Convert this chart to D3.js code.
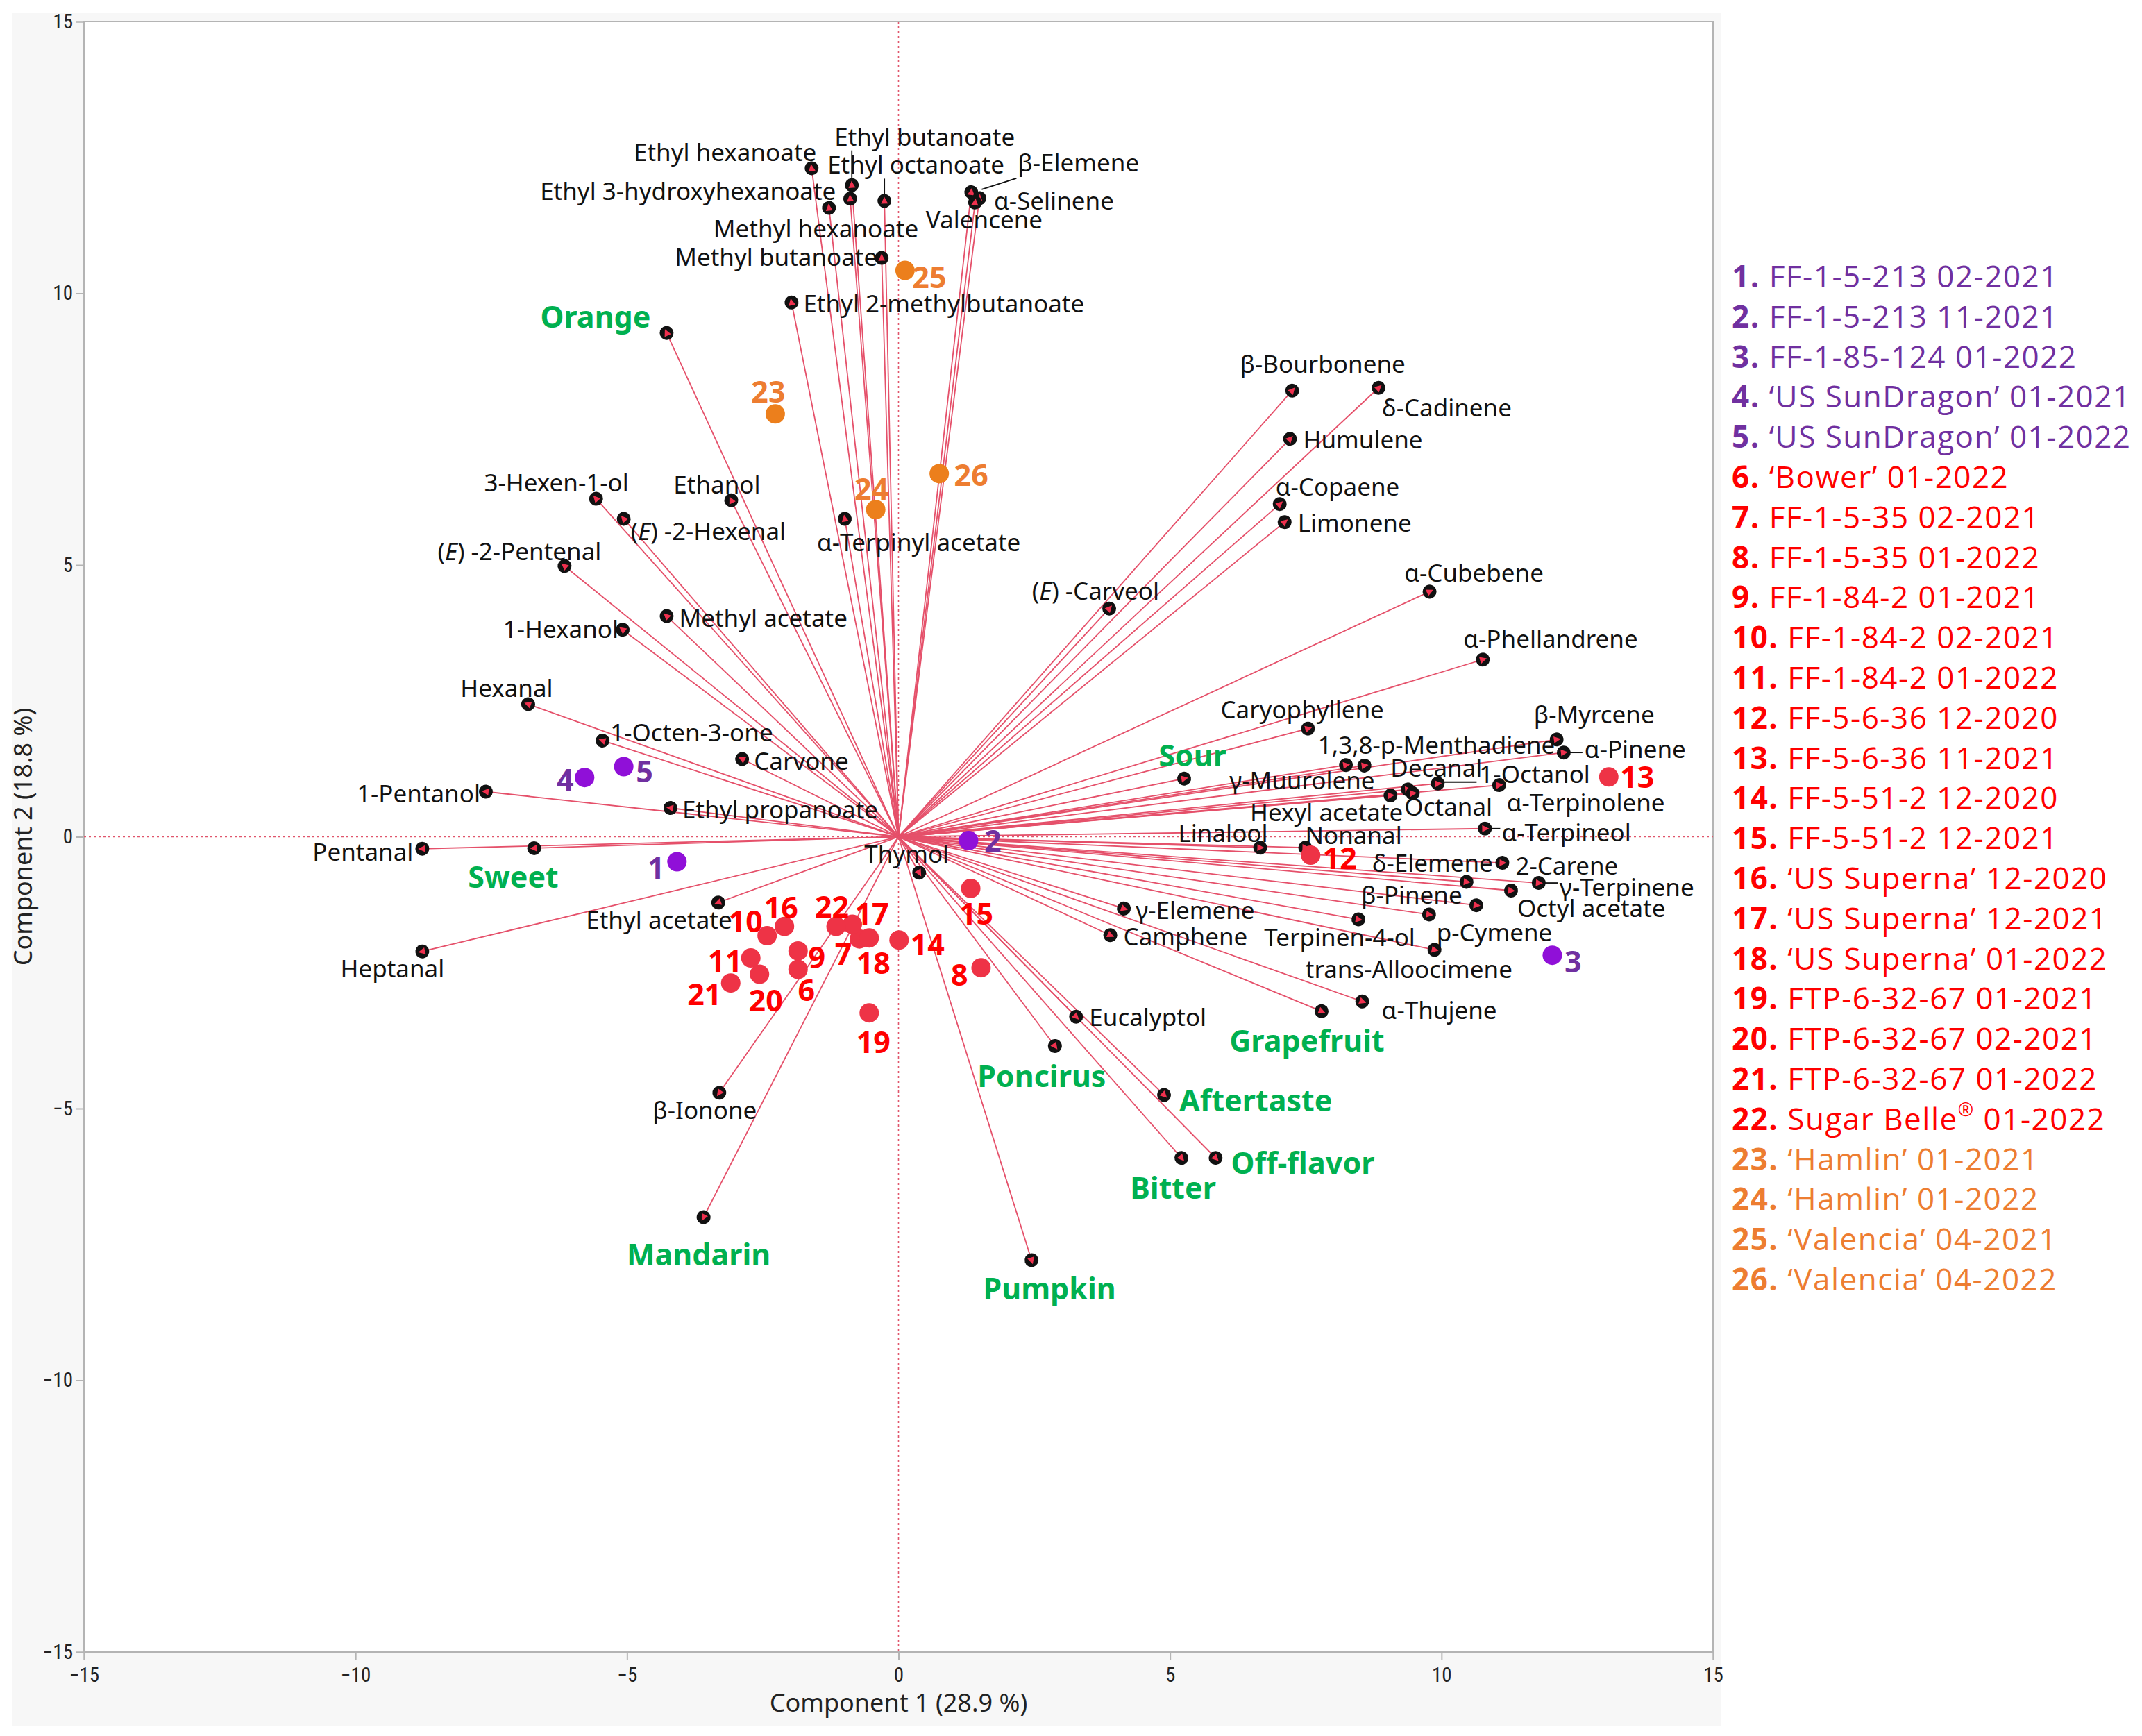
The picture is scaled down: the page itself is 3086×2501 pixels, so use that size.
<!DOCTYPE html>
<html>
<head>
<meta charset="utf-8">
<script src="https://cdn.jsdelivr.net/npm/d3@7"></script>
<style>
  body { margin: 0; background: #fff; }
  text { font-family: "Noto Sans", "DejaVu Sans", sans-serif; }
</style>
</head>
<body>
<div id="chart"></div>
<script>
// ---- data ----
var loadNames = ["Ethyl hexanoate","Ethyl butanoate","Ethyl 3-hydroxyhexanoate","Methyl hexanoate","Ethyl octanoate",
  "Methyl butanoate","Ethyl 2-methylbutanoate","β-Elemene","α-Selinene","Valencene","Orange","3-Hexen-1-ol",
  "(E)-2-Hexenal","Ethanol","α-Terpinyl acetate","(E)-2-Pentenal","Methyl acetate","1-Hexanol","(E)-Carveol",
  "β-Bourbonene","δ-Cadinene","Humulene","α-Copaene","Limonene","α-Cubebene","α-Phellandrene","Caryophyllene",
  "1,3,8-p-Menthadiene","β-Myrcene","α-Pinene","γ-Muurolene","Decanal","1-Octanol","Hexyl acetate","Octanal",
  "α-Terpinolene","α-Terpineol","Linalool","Nonanal","δ-Elemene","2-Carene","γ-Terpinene","Octyl acetate",
  "β-Pinene","trans-Alloocimene","p-Cymene","Terpinen-4-ol","α-Thujene","Grapefruit","γ-Elemene","Camphene",
  "Eucalyptol","Thymol","Sour","Sweet","Hexanal","1-Octen-3-one","Carvone","1-Pentanol","Ethyl propanoate",
  "Pentanal","Heptanal","Ethyl acetate","β-Ionone","Mandarin","Poncirus","Aftertaste","Bitter","Off-flavor","Pumpkin"];
var loadX = [-1.60,-0.86,-1.28,-0.89,-0.26,-0.31,-1.97,1.34,1.49,1.41,-4.27,-5.57,-5.06,-3.08,-0.99,-6.15,-4.27,-5.08,
  3.88,7.25,8.84,7.21,7.02,7.11,9.78,10.76,7.54,8.58,12.12,12.25,8.24,9.38,9.93,9.06,9.47,11.06,10.80,6.66,7.49,
  10.46,11.12,11.79,11.28,9.77,10.64,9.87,8.47,8.54,7.79,4.15,3.90,3.27,0.38,5.26,-6.71,-6.82,-5.45,-2.88,-7.60,
  -4.20,-8.77,-8.77,-3.32,-3.30,-3.59,2.88,4.89,5.21,5.84,2.45];
var loadY = [12.30,11.99,11.57,11.74,11.70,10.65,9.83,11.86,11.75,11.67,9.27,6.22,5.85,6.19,5.85,4.98,4.06,3.81,
  4.20,8.21,8.26,7.32,6.12,5.79,4.51,3.26,1.99,1.31,1.79,1.55,1.32,0.87,0.98,0.76,0.80,0.95,0.15,-0.20,-0.20,
  -0.83,-0.48,-0.85,-0.99,-1.43,-1.26,-2.08,-1.52,-3.03,-3.21,-1.32,-1.81,-3.31,-0.66,1.07,-0.21,2.44,1.77,1.43,
  0.83,0.53,-0.22,-2.11,-1.21,-4.71,-7.00,-3.85,-4.75,-5.91,-5.91,-7.79];
var sensory = ["Orange","Sour","Sweet","Grapefruit","Mandarin","Poncirus","Aftertaste","Bitter","Off-flavor","Pumpkin"];

var scoreIds = ["1","2","3","4","5","6","7","8","9","10","11","12","13","14","15","16","17","18","19","20","21","22","23","24","25","26"];
var scoreX = [-4.08,1.29,12.04,-5.78,-5.06,-1.85,-0.72,1.52,-1.85,-2.42,-2.72,7.59,13.08,0.01,1.33,-2.10,-0.85,-0.54,
  -0.54,-2.56,-3.09,-1.15,-2.27,-0.42,0.12,0.75];
var scoreY = [-0.46,-0.07,-2.18,1.09,1.29,-2.44,-1.88,-2.41,-2.10,-1.82,-2.23,-0.34,1.10,-1.90,-0.95,-1.65,-1.61,-1.86,
  -3.24,-2.53,-2.69,-1.65,7.78,6.02,10.42,6.68];
var scoreGroup = [0,0,0,0,0,1,1,1,1,1,1,1,1,1,1,1,1,1,1,1,1,1,2,2,2,2];
var legendNames = ["FF-1-5-213 02-2021","FF-1-5-213 11-2021","FF-1-85-124 01-2022","\u2018US SunDragon\u2019 01-2021",
  "\u2018US SunDragon\u2019 01-2022","\u2018Bower\u2019 01-2022","FF-1-5-35 02-2021","FF-1-5-35 01-2022","FF-1-84-2 01-2021",
  "FF-1-84-2 02-2021","FF-1-84-2 01-2022","FF-5-6-36 12-2020","FF-5-6-36 11-2021","FF-5-51-2 12-2020",
  "FF-5-51-2 12-2021","\u2018US Superna\u2019 12-2020","\u2018US Superna\u2019 12-2021","\u2018US Superna\u2019 01-2022",
  "FTP-6-32-67 01-2021","FTP-6-32-67 02-2021","FTP-6-32-67 01-2022","Sugar Belle\u00ae 01-2022",
  "\u2018Hamlin\u2019 01-2021","\u2018Hamlin\u2019 01-2022","\u2018Valencia\u2019 04-2021","\u2018Valencia\u2019 04-2022"];
var xTicks = [-15,-10,-5,0,5,10,15];
var yTicks = [-15,-10,-5,0,5,10,15];

// ---- label placement (anchor, dx, dy in px from the marker; optional leader) ----
var labelPlace = {
  "Ethyl hexanoate":["end",7,-24], "Ethyl butanoate":["start",-25,-70,[0,-10,0,-50]],
  "Ethyl 3-hydroxyhexanoate":["end",10,-25], "Methyl hexanoate":["start",-197,42],
  "Ethyl octanoate":["start",-82,-53,[0,-10,0,-32]], "Methyl butanoate":["end",-6,-2],
  "Ethyl 2-methylbutanoate":["start",17,1], "β-Elemene":["start",67,-43,[15,-4,65,-20]],
  "α-Selinene":["start",21,3], "Valencene":["start",-71,24], "Orange":["end",-23,-24],
  "3-Hexen-1-ol":["end",47,-24], "Ethanol":["end",42,-23], "(E)-2-Hexenal":["start",10,17],
  "α-Terpinyl acetate":["start",-40,33], "(E)-2-Pentenal":["end",53,-23], "Methyl acetate":["start",18,2],
  "1-Hexanol":["end",-6,-2], "(E)-Carveol":["end",72,-27], "β-Bourbonene":["middle",44,-39],
  "δ-Cadinene":["start",5,28], "Humulene":["start",19,0], "α-Copaene":["start",-6,-26],
  "Limonene":["start",19,0], "α-Cubebene":["middle",64,-28], "α-Phellandrene":["start",-28,-31],
  "Caryophyllene":["start",-126,-28], "1,3,8-p-Menthadiene":["start",-67,-30], "β-Myrcene":["start",-33,-37],
  "α-Pinene":["start",30,-6,[8,0,27,0]], "γ-Muurolene":["start",-168,21], "Decanal":["start",-25,-32],
  "1-Octanol":["start",60,-14,[8,-2,56,-2]], "Hexyl acetate":["end",18,24], "Octanal":["start",-12,19],
  "α-Terpinolene":["start",11,24], "α-Terpineol":["start",24,5,[9,0,22,0]], "Linalool":["end",11,-22],
  "Nonanal":["start",0,-19], "δ-Elemene":["end",38,-28], "2-Carene":["start",19,3],
  "γ-Terpinene":["start",30,5,[8,0,28,0]], "Octyl acetate":["start",9,24], "β-Pinene":["middle",-25,-29],
  "trans-Alloocimene":["middle",-97,91], "p-Cymene":["start",3,-26], "Terpinen-4-ol":["middle",-27,25],
  "α-Thujene":["start",28,12], "Grapefruit":["middle",-21,42], "γ-Elemene":["start",17,2],
  "Camphene":["start",19,1], "Eucalyptol":["start",19,0], "Thymol":["middle",-18,-28],
  "Sour":["middle",12,-34], "Sweet":["middle",-30,41], "Hexanal":["middle",-31,-24],
  "1-Octen-3-one":["start",11,-12], "Carvone":["start",17,2], "1-Pentanol":["end",-8,2],
  "Ethyl propanoate":["start",17,1], "Pentanal":["end",-13,4], "Heptanal":["middle",-43,24],
  "Ethyl acetate":["end",20,24], "β-Ionone":["middle",-21,24], "Mandarin":["middle",-7,53],
  "Poncirus":["middle",-19,43], "Aftertaste":["start",22,7], "Bitter":["middle",-12,42],
  "Off-flavor":["start",22,6], "Pumpkin":["middle",26,40]
};
var scoreLabelPos = {
  "1":[-30,8], "2":[35,0], "3":[30,8], "4":[-28,2], "5":[30,6], "6":[12,29], "7":[-23,21], "8":[-31,9],
  "9":[27,9], "10":[-31,-22], "11":[-37,3], "12":[42,3], "13":[41,-1], "14":[41,5], "15":[8,36],
  "16":[-5,-28], "17":[28,-16], "18":[6,35], "19":[6,41], "20":[9,37], "21":[-38,15], "22":[-6,-29],
  "23":[-10,-33], "24":[-6,-31], "25":[35,9], "26":[46,1]
};

var dotColor = ["#9010d8", "#ee3346", "#ec7f1c"];
var textColor = ["#7030a0", "#ff0000", "#ed7d31"];

var width = 3086, height = 2501;
var svg = d3.select("#chart").append("svg")
  .attr("width", width).attr("height", height);

var x = d3.scaleLinear().domain([-15, 15]).range([121, 2468]);
var y = d3.scaleLinear().domain([-15, 15]).range([2380, 31]);

// frame
svg.append("rect").attr("x", 18).attr("y", 19).attr("width", 2461).attr("height", 2468).attr("fill", "#f7f7f7");
svg.append("rect").attr("x", x(-15)).attr("y", y(15))
  .attr("width", x(15) - x(-15)).attr("height", y(-15) - y(15))
  .attr("fill", "#fff").attr("stroke", "#b4b4b4").attr("stroke-width", 2);

// axes
var xAxis = svg.append("g").attr("transform", "translate(0," + y(-15) + ")")
  .call(d3.axisBottom(x).tickValues(xTicks).tickSize(12).tickPadding(10).tickFormat(d3.format("d")));
var yAxis = svg.append("g").attr("transform", "translate(" + x(-15) + ",0)")
  .call(d3.axisLeft(y).tickValues(yTicks).tickSize(12).tickPadding(4).tickFormat(d3.format("d")));
[xAxis, yAxis].forEach(function (g) {
  g.select(".domain").attr("stroke", "#b4b4b4").attr("stroke-width", 2);
  g.selectAll(".tick line").attr("stroke", "#b4b4b4").attr("stroke-width", 2);
  g.selectAll(".tick text").attr("fill", "#222")
    .style("font-family", "'Liberation Sans Narrow', 'Roboto Condensed', sans-serif").style("font-size", "29px");
});
yAxis.selectAll(".tick text").attr("dy", "0.32em");

svg.append("text").attr("x", x(0)).attr("y", 2466).attr("text-anchor", "middle")
  .style("font-size", "36px").attr("fill", "#222").text("Component 1  (28.9 %)");
svg.append("text").attr("transform", "translate(46," + y(0) + ") rotate(-90)").attr("text-anchor", "middle")
  .style("font-size", "36px").attr("fill", "#222").text("Component 2  (18.8 %)");

// zero reference lines
svg.append("line").attr("x1", x(0)).attr("x2", x(0)).attr("y1", y(15)).attr("y2", y(-15))
  .attr("stroke", "#e0556b").attr("stroke-width", 1.6).attr("stroke-dasharray", "3,4");
svg.append("line").attr("x1", x(-15)).attr("x2", x(15)).attr("y1", y(0)).attr("y2", y(0))
  .attr("stroke", "#e0556b").attr("stroke-width", 1.6).attr("stroke-dasharray", "3,4");

var loads = loadNames.map(function (n, i) { return { name: n, x: loadX[i], y: loadY[i] }; });
var scores = scoreIds.map(function (id, i) { return { id: id, x: scoreX[i], y: scoreY[i], g: scoreGroup[i] }; });

// vectors
svg.append("g").selectAll("line").data(loads).enter().append("line")
  .attr("x1", x(0)).attr("y1", y(0))
  .attr("x2", function (d) { return x(d.x); }).attr("y2", function (d) { return y(d.y); })
  .attr("stroke", "#e5506a").attr("stroke-width", 1.8);

// leader lines
svg.append("g").selectAll("line").data(loads.filter(function (d) { return labelPlace[d.name][3]; }))
  .enter().append("line")
  .attr("x1", function (d) { return x(d.x) + labelPlace[d.name][3][0]; })
  .attr("y1", function (d) { return y(d.y) + labelPlace[d.name][3][1]; })
  .attr("x2", function (d) { return x(d.x) + labelPlace[d.name][3][2]; })
  .attr("y2", function (d) { return y(d.y) + labelPlace[d.name][3][3]; })
  .attr("stroke", "#111").attr("stroke-width", 1.8);

// vector end markers
var ends = svg.append("g").selectAll("g").data(loads).enter().append("g")
  .attr("transform", function (d) {
    var a = Math.atan2(y(d.y) - y(0), x(d.x) - x(0)) * 180 / Math.PI;
    return "translate(" + x(d.x) + "," + y(d.y) + ") rotate(" + a + ")";
  });
ends.append("circle").attr("r", 10).attr("fill", "#111");
ends.append("path").attr("d", "M6,0L-4,-5L-4,5Z").attr("fill", "#f0304e");

// vector labels
var labels = svg.append("g").selectAll("text").data(loads).enter().append("text")
  .attr("x", function (d) { return x(d.x) + labelPlace[d.name][1]; })
  .attr("y", function (d) { return y(d.y) + labelPlace[d.name][2]; })
  .attr("text-anchor", function (d) { return labelPlace[d.name][0]; })
  .attr("dominant-baseline", "central")
  .attr("fill", function (d) { return sensory.indexOf(d.name) >= 0 ? "#00b050" : "#111"; })
  .style("font-size", function (d) { return sensory.indexOf(d.name) >= 0 ? "43px" : "35px"; })
  .style("font-weight", function (d) { return sensory.indexOf(d.name) >= 0 ? "bold" : "normal"; });
labels.each(function (d) {
  var t = d3.select(this);
  if (d.name.indexOf("(E)") === 0) {
    t.append("tspan").text("(");
    t.append("tspan").style("font-style", "italic").text("E");
    t.append("tspan").text(") " + d.name.slice(3));
  } else {
    t.text(d.name);
  }
});

// scores
svg.append("g").selectAll("circle").data(scores).enter().append("circle")
  .attr("cx", function (d) { return x(d.x); }).attr("cy", function (d) { return y(d.y); })
  .attr("r", 14).attr("fill", function (d) { return dotColor[d.g]; });
svg.append("g").selectAll("text").data(scores).enter().append("text")
  .attr("x", function (d) { return x(d.x) + scoreLabelPos[d.id][0]; })
  .attr("y", function (d) { return y(d.y) + scoreLabelPos[d.id][1]; })
  .attr("text-anchor", "middle").attr("dominant-baseline", "central")
  .attr("fill", function (d) { return textColor[d.g]; })
  .style("font-size", "43px").style("font-weight", "bold")
  .text(function (d) { return d.id; });

// legend
var leg = svg.append("g").selectAll("text").data(scores).enter().append("text")
  .attr("x", 2495).attr("y", function (d, i) { return 397 + i * 57.8; })
  .attr("dominant-baseline", "central")
  .attr("fill", function (d) { return textColor[d.g]; })
  .style("font-family", "'Open Sans', sans-serif").style("font-size", "44px")
  .style("letter-spacing", "1.5px");
leg.each(function (d, i) {
  var t = d3.select(this);
  t.append("tspan").style("font-weight", "bold").text(d.id + ". ");
  var nm = legendNames[i];
  var k = nm.indexOf("\u00ae");
  if (k >= 0) {
    t.append("tspan").text(nm.slice(0, k));
    t.append("tspan").attr("dy", -14).style("font-size", "27px").text("\u00ae");
    t.append("tspan").attr("dy", 14).text(nm.slice(k + 1));
  } else {
    t.append("tspan").text(nm);
  }
});
</script>
</body>
</html>
